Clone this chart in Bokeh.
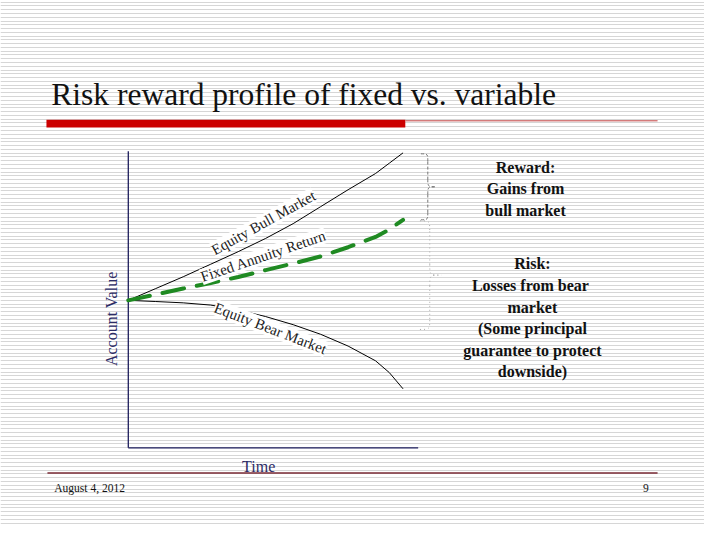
import numpy as np
from bokeh.plotting import figure
from bokeh.models import Range1d, Label
from bokeh.embed import file_html
from bokeh.resources import INLINE

# ---------------- data ----------------
time = [0, 1, 2, 3, 4, 5, 6, 7, 8, 9, 9.5, 10]
bull = [100, 108, 116, 124.5, 133, 142, 152, 163.5, 175, 186, 193, 200]
fixed = [100, 104, 108, 111.8, 115.8, 120.5, 125, 129.8, 136, 143, 148, 154.6]
bear = [100, 99.2, 98.3, 96.8, 93.5, 89, 83.5, 77, 69, 59, 51, 40]

axis_time_end = 10.55
axis_value_top = 201

title_text = "Risk reward profile of fixed vs. variable"
bull_label = "Equity Bull Market"
fixed_label = "Fixed Annuity Return"
bear_label = "Equity Bear Market"
reward_text = "Reward:\nGains from\nbull market"
risk_text = "Risk:\nLosses from  bear\nmarket\n(Some principal\nguarantee to protect\ndownside)"
x_title = "Time"
y_title = "Account Value"
footer_date = "August 4, 2012"
footer_page = "9"

# ---------------- layout ----------------
W, H = 704, 524
SLIDE_W, SLIDE_H = 720, 540          # slide coordinate system for decorations
PX_T0, PX_PER_T = 130.7, 28.1        # slide px of time 0 and px per time unit
PY_V0, PY_PER_V = 461.0, 1.52        # slide px of value 0 and px per value unit

SERIF = "Liberation Serif"
NAVY = "#1c1c5c"

p = figure(width=W, height=H, output_backend="svg", toolbar_location=None,
           x_range=Range1d(0, SLIDE_W), y_range=Range1d(SLIDE_H, 0),
           x_axis_location=None, y_axis_location=None, min_border=0,
           outline_line_color=None, background_fill_color="white",
           border_fill_color="white")
p.grid.visible = False
p.extra_x_ranges = {"t": Range1d((0 - PX_T0) / PX_PER_T, (SLIDE_W - PX_T0) / PX_PER_T)}
p.extra_y_ranges = {"v": Range1d((PY_V0 - SLIDE_H) / PY_PER_V, PY_V0 / PY_PER_V)}

# striped slide background
stripe_y = np.arange(1.7, SLIDE_H + 1, 3.89)
p.hspan(y=stripe_y, line_color="#d6d6d6", line_width=1)

# header bar
p.quad(left=47, right=414, top=123, bottom=131, fill_color="#cc0000", line_color=None)
p.segment(x0=414, y0=124, x1=672, y1=124, line_color="#c04040", line_width=1)
# footer line
p.segment(x0=48, y0=487, x1=672, y1=487, line_color="#7a2a34", line_width=1.5)

# chart axes
p.line(x=[0, 0], y=[0, axis_value_top], x_range_name="t", y_range_name="v",
       line_color=NAVY, line_width=1.3)
p.line(x=[0, axis_time_end], y=[0, 0], x_range_name="t", y_range_name="v",
       line_color=NAVY, line_width=1.3)

# curves
p.line(x=time, y=bull, x_range_name="t", y_range_name="v", line_color="black", line_width=1)
p.line(x=time, y=bear, x_range_name="t", y_range_name="v", line_color="black", line_width=1)
p.line(x=time, y=fixed, x_range_name="t", y_range_name="v", line_color="#1f8a22",
       line_width=4, line_dash="22 13", line_cap="round")

# braces (decorative)
def brace(x0, xm, xt, yt, yb, r, color, dash):
    ym = (yt + yb) / 2
    p.bezier(x0=[x0, xm, x0, xm], y0=[yt, ym - r, yb, ym + r],
             x1=[xm, xt, xm, xt], y1=[yt + r, ym, yb - r, ym],
             cx0=[xm, xm, xm, xm], cy0=[yt, ym, yb, ym],
             cx1=[xm, xm, xm, xm], cy1=[yt, ym, yb, ym],
             line_color=color, line_width=1, line_dash=dash)
    p.segment(x0=[xm, xm], y0=[yt + r, ym + r], x1=[xm, xm], y1=[ym - r, yb - r],
              line_color=color, line_width=1, line_dash=dash)

brace(430, 437, 446, 158, 226, 8, "#777777", "3 2")
brace(429, 439, 451, 227, 339, 11, "#aaaaaa", "1 3")

# curve labels
def curve_label(text, t, v, angle):
    lab = Label(x=t, y=v, x_range_name="t", y_range_name="v", text=text,
                angle=angle, angle_units="deg", text_align="center",
                text_baseline="middle", text_font=SERIF, text_font_size="15px",
                text_color="#222222", background_fill_color="white",
                background_fill_alpha=1.0)
    p.add_layout(lab)

curve_label(bull_label, 4.92, 152.6, 29)
curve_label(fixed_label, 4.92, 130.0, 18.8)
curve_label(bear_label, 5.17, 81.0, -21)

# title
p.add_layout(Label(x=52, y=97, text=title_text, text_font=SERIF, text_font_size="31.5px",
                   text_color="#111111", text_align="left", text_baseline="middle"))

# right-side annotations
p.add_layout(Label(x=537, y=194, text=reward_text, text_font=SERIF, text_font_size="16px",
                   text_font_style="bold", text_color="#111111", text_align="center",
                   text_baseline="middle", text_line_height=1.27))
p.add_layout(Label(x=544, y=327, text=risk_text, text_font=SERIF, text_font_size="16px",
                   text_font_style="bold", text_color="#111111", text_align="center",
                   text_baseline="middle", text_line_height=1.27))

# axis titles
p.add_layout(Label(x=264, y=480, text=x_title, text_font=SERIF, text_font_size="16px",
                   text_color="#2c2c66", text_align="center", text_baseline="middle"))
p.add_layout(Label(x=114, y=328, text=y_title, text_font=SERIF, text_font_size="16px",
                   text_color="#2c2c66", text_align="center", text_baseline="middle",
                   angle=90, angle_units="deg"))

# footer texts
p.add_layout(Label(x=55, y=502, text=footer_date, text_font=SERIF, text_font_size="11.5px",
                   text_color="#111111", text_align="left", text_baseline="middle"))
p.add_layout(Label(x=660, y=502, text=footer_page, text_font=SERIF, text_font_size="11.5px",
                   text_color="#111111", text_align="center", text_baseline="middle"))

open("out.html", "w").write(file_html(p, INLINE))
